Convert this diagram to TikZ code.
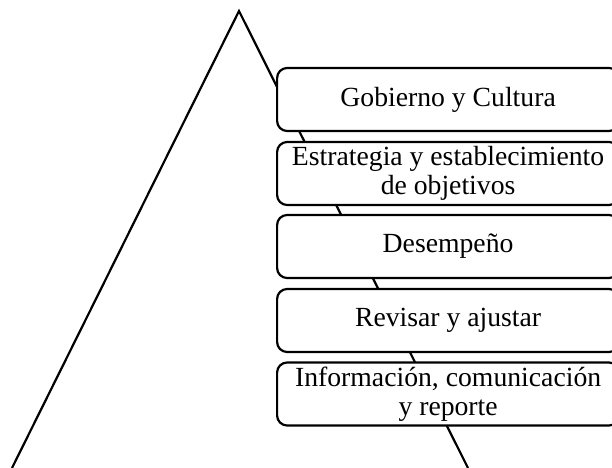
\documentclass[tikz,border=0pt]{standalone}
\usepackage{fontspec}
\setmainfont{Liberation Serif}
\begin{document}
\begin{tikzpicture}[x=1bp,y=-1bp, line width=2.2bp,
 box/.style={draw, fill=white, rounded corners=10bp, minimum width=342bp, minimum height=63bp,
   align=center, font=\fontsize{27.8}{29}\selectfont, inner sep=0pt, anchor=west}]
\useasboundingbox (0,0) rectangle (612,468);
\coordinate (apex) at (239,11);
\coordinate (bl) at (12,468);
\coordinate (br) at (468,468);
\draw (bl) -- (apex) -- (br);
\node[box] (b1) at (276,99.5) {Gobierno y Cultura};
\node[box] (b2) at (276,173.5) {Estrategia y establecimiento\\de objetivos};
\node[box] (b3) at (276,246.5) {Desempeño};
\node[box] (b4) at (276,320.5) {Revisar y ajustar};
\node[box] (b5) at (276,394) {Información, comunicación\\y reporte};
\end{tikzpicture}
\end{document}
